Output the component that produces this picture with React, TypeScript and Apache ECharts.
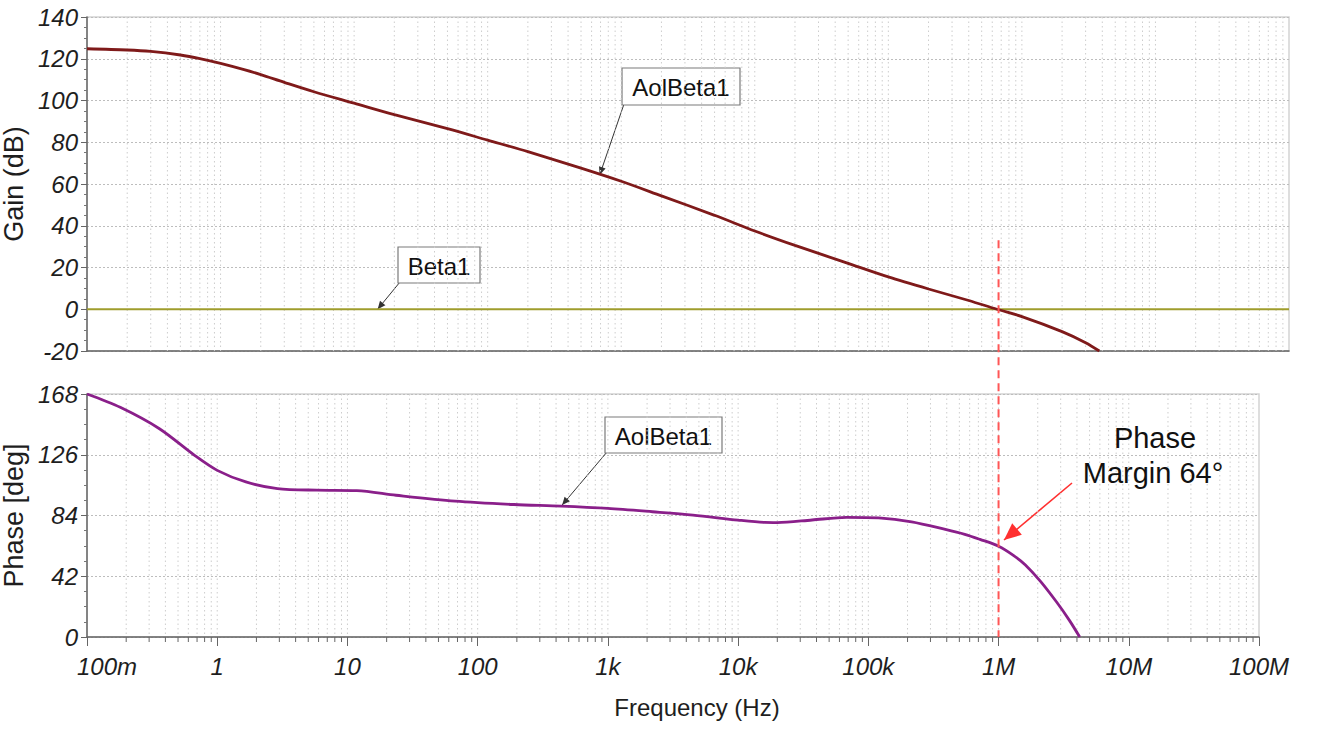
import React, { useEffect, useRef } from 'react';
import * as echarts from 'echarts';

// ---- data ----
const decadeValues = [0.1, 1, 10, 100, 1e3, 1e4, 1e5, 1e6, 1e7, 1e8];
const freqLabels = ['100m', '1', '10', '100', '1k', '10k', '100k', '1M', '10M', '100M'];
const gridMultipliers = [1, 2, 3, 4, 5, 6, 7, 8, 9];

const gainFreq = [0.1, 0.2, 0.3, 0.5, 0.7, 1, 1.5, 2, 3, 5, 10, 20, 50, 100, 200, 500, 1e3, 2e3, 5e3, 1e4, 2e4, 5e4, 1e5, 2e5, 4e5, 6.5e5, 1e6, 2e6, 3e6, 3.8e6];
const gainDb = [124.8, 124.2, 123.5, 121.8, 120.1, 117.8, 114.8, 112.4, 108.7, 104.2, 98.7, 93.2, 86.5, 81, 75.5, 67.6, 61.3, 54.3, 45, 37.5, 30.6, 22, 15.5, 9.7, 4.2, 0, -3.5, -10.7, -16, -20];

const betaFreq = [0.1, 1e8];
const betaDb = [0, 0];

const phaseFreq = [0.1, 0.18, 0.36, 0.67, 1, 1.66, 2.9, 5.8, 11.8, 23.6, 67, 190, 440, 1e3, 2.2e3, 4.5e3, 1e4, 1.6e4, 2e4, 3.7e4, 6.8e4, 1.2e5, 2.15e5, 3.9e5, 5.5e5, 7.2e5, 1e6, 1.3e6, 1.6e6, 2.1e6, 2.8e6, 3.5e6, 4.2e6];
const phaseDeg = [168, 158.8, 144, 125.6, 115.2, 107.2, 102.6, 101.5, 101.2, 98, 93.9, 91.6, 90.5, 88.9, 86.6, 84.3, 80.8, 79.2, 79.1, 80.9, 82.7, 82.3, 79.6, 74.4, 71, 67.5, 62.8, 56.5, 50, 38.5, 24, 11.5, 0];

const gainRange = [-20, 140];
const phaseRange = [0, 168];

const FONT = '"Liberation Sans", Arial, sans-serif';

function arrowHead(tip: number[], from: number[], len: number, half: number) {
  const dx = tip[0] - from[0];
  const dy = tip[1] - from[1];
  const L = Math.hypot(dx, dy);
  const ux = dx / L, uy = dy / L;
  const bx = tip[0] - ux * len, by = tip[1] - uy * len;
  return [[tip[0], tip[1]], [bx - uy * half, by + ux * half], [bx + uy * half, by - ux * half]];
}

export default function App() {
  const ref = useRef<HTMLDivElement>(null);
  useEffect(() => {
    if (!ref.current) return;
    const chart = echarts.init(ref.current, null, { renderer: 'svg' });

    const gridFreqs: number[][] = [];
    for (let i = 0; i < decadeValues.length - 1; i++) {
      for (const m of gridMultipliers) {
        const v = decadeValues[i] * m;
        if (i === 0 && m === 1) continue;
        gridFreqs.push([v, m === 1 ? 1 : 0]);
      }
    }

    const labelFmt = (v: number) => {
      const i = decadeValues.findIndex((d) => Math.abs(Math.log10(d) - Math.log10(v)) < 1e-6);
      if (i < 0) return '';
      return i === 0 ? '{first|' + freqLabels[0] + '}' : freqLabels[i];
    };

    const axisLabelStyle = { fontSize: 24, fontStyle: 'italic', fontFamily: FONT, color: '#1e1e1e' };

    const vGrid = (yr: number[], withTicks: boolean) => (params: any, api: any) => {
      const f = api.value(0);
      const dec = api.value(1);
      const p1 = api.coord([f, yr[1]]);
      const p2 = api.coord([f, yr[0]]);
      const children: any[] = [
        { type: 'line', shape: { x1: p1[0], y1: p1[1], x2: p2[0], y2: p2[1] }, style: { stroke: '#cdcdcd', lineWidth: 1, lineDash: [1.5, 3] }, silent: true },
      ];
      if (withTicks && !dec) {
        children.push({ type: 'line', shape: { x1: p2[0], y1: p2[1], x2: p2[0], y2: p2[1] + 5 }, style: { stroke: '#666', lineWidth: 1 }, silent: true });
      }
      return { type: 'group', children };
    };

    const option: any = {
      animation: false,
      backgroundColor: '#ffffff',
      grid: [
        { left: 87, top: 17, width: 1202, height: 334, show: true, borderColor: '#d4d4d4', borderWidth: 1.5, backgroundColor: 'transparent', containLabel: false, outerBoundsMode: 'none' },
        { left: 87, top: 394, width: 1172, height: 243, show: true, borderColor: '#d4d4d4', borderWidth: 1.5, backgroundColor: 'transparent', containLabel: false, outerBoundsMode: 'none' },
      ],
      xAxis: [
        {
          gridIndex: 0, type: 'log', logBase: 10, min: 0.1, max: 1e8, splitNumber: 10,
          axisLine: { show: true, onZero: false, lineStyle: { color: '#666', width: 1.5 } },
          axisTick: { show: false }, axisLabel: { show: false }, splitLine: { show: false },
        },
        {
          gridIndex: 1, type: 'log', logBase: 10, min: 0.1, max: 1e8, splitNumber: 10,
          axisLine: { show: true, onZero: false, lineStyle: { color: '#666', width: 1.5 } },
          axisTick: { show: true, length: 9, lineStyle: { color: '#666' } },
          axisLabel: {
            ...axisLabelStyle, margin: 17, formatter: labelFmt, showMinLabel: true, showMaxLabel: true,
            rich: { first: { ...axisLabelStyle, padding: [0, 0, 0, 40] } },
          },
          splitLine: { show: false },
          name: 'Frequency (Hz)', nameLocation: 'middle', nameGap: 58,
          nameTextStyle: { fontSize: 24, fontFamily: FONT, color: '#1e1e1e', padding: [0, 0, 0, 48] },
        },
      ],
      yAxis: [
        {
          gridIndex: 0, type: 'value', min: gainRange[0], max: gainRange[1], interval: 20,
          axisLine: { show: true, lineStyle: { color: '#666', width: 1.5 } },
          axisTick: { show: true, length: 6, lineStyle: { color: '#666' } },
          minorTick: { show: true, splitNumber: 4, length: 3, lineStyle: { color: '#777' } },
          axisLabel: { ...axisLabelStyle, margin: 9 },
          splitLine: { show: true, lineStyle: { color: '#bdbdbd', type: [2, 2], width: 1 } },
          name: 'Gain (dB)', nameLocation: 'middle', nameGap: 49,
          nameTextStyle: { fontSize: 27, fontFamily: FONT, color: '#1e1e1e' },
        },
        {
          gridIndex: 1, type: 'value', min: phaseRange[0], max: phaseRange[1], interval: 42,
          axisLine: { show: true, lineStyle: { color: '#666', width: 1.5 } },
          axisTick: { show: true, length: 6, lineStyle: { color: '#666' } },
          minorTick: { show: true, splitNumber: 4, length: 3, lineStyle: { color: '#777' } },
          axisLabel: { ...axisLabelStyle, margin: 9 },
          splitLine: { show: true, lineStyle: { color: '#bdbdbd', type: [2, 2], width: 1 } },
          name: 'Phase [deg]', nameLocation: 'middle', nameGap: 49,
          nameTextStyle: { fontSize: 27, fontFamily: FONT, color: '#1e1e1e' },
        },
      ],
      series: [
        { type: 'custom', xAxisIndex: 0, yAxisIndex: 0, silent: true, z: 1, data: gridFreqs, renderItem: vGrid(gainRange, false) },
        { type: 'custom', xAxisIndex: 1, yAxisIndex: 1, silent: true, z: 1, data: gridFreqs, renderItem: vGrid(phaseRange, true) },
        {
          name: 'Beta1', type: 'line', xAxisIndex: 0, yAxisIndex: 0, z: 3, showSymbol: false, silent: true,
          data: betaFreq.map((f, i) => [f, betaDb[i]]), lineStyle: { color: '#9f9d2c', width: 2.2 },
        },
        {
          name: 'AolBeta1', type: 'line', xAxisIndex: 0, yAxisIndex: 0, z: 4, showSymbol: false, silent: true, smooth: 0.3,
          data: gainFreq.map((f, i) => [f, gainDb[i]]), lineStyle: { color: '#7f1a1a', width: 2.8 },
        },
        {
          name: 'AolBeta1 phase', type: 'line', xAxisIndex: 1, yAxisIndex: 1, z: 4, showSymbol: false, silent: true, smooth: 0.3,
          data: phaseFreq.map((f, i) => [f, phaseDeg[i]]), lineStyle: { color: '#8a1f8a', width: 2.8 },
        },
      ],
    };
    chart.setOption(option);

    const px = (g: number, v: number[]) => chart.convertToPixel({ gridIndex: g } as any, v) as unknown as number[];
    const xm = px(1, [1e6, 0]);
    const yTop = px(0, [1e6, 33])[1];

    const tipTop = px(0, [690, 64.3]);
    const tipBeta = px(0, [15, 0]);
    const tipBot = px(1, [445, 91.2]);

    const box = (x: number, y: number, w: number, h: number, text: string) => ({
      type: 'group', z: 20, children: [
        { type: 'rect', shape: { x, y, width: w, height: h }, style: { fill: '#fff', stroke: '#7a7a7a', lineWidth: 1.2 } },
        { type: 'text', x: x + w / 2, y: y + h / 2 + 1, style: { text, fontSize: 24, fontFamily: FONT, fill: '#111', align: 'center', verticalAlign: 'middle' } },
      ],
    });
    const arrow = (from: number[], tip: number[], color: string, width: number, len: number, half: number) => ({
      type: 'group', z: 19, children: [
        { type: 'line', shape: { x1: from[0], y1: from[1], x2: tip[0], y2: tip[1] }, style: { stroke: color, lineWidth: width } },
        { type: 'polygon', shape: { points: arrowHead(tip, from, len, half) }, style: { fill: color } },
      ],
    });

    chart.setOption({
      graphic: [
        { type: 'line', z: 18, shape: { x1: xm[0], y1: yTop, x2: xm[0], y2: xm[1] }, style: { stroke: '#ff5656', lineWidth: 2, lineDash: [8, 5] } },
        arrow([624, 104], tipTop, '#333', 1, 8, 3.5),
        box(622, 68, 118, 37, 'AolBeta1'),
        arrow([400, 282], tipBeta, '#333', 1, 8, 3.5),
        box(398, 247, 82, 36, 'Beta1'),
        arrow([607, 452], tipBot, '#333', 1, 8, 3.5),
        box(605, 417, 117, 36, 'AolBeta1'),
        arrow([1072, 483], [1004, 540], '#ff3030', 1.6, 17, 7.5),
        { type: 'text', z: 20, x: 1155, y: 438, style: { text: 'Phase', fontSize: 29, fontFamily: FONT, fill: '#111', align: 'center', verticalAlign: 'middle' } },
        { type: 'text', z: 20, x: 1153, y: 473, style: { text: 'Margin 64°', fontSize: 29, fontFamily: FONT, fill: '#111', align: 'center', verticalAlign: 'middle' } },
      ],
    });

    return () => chart.dispose();
  }, []);
  return <div ref={ref} style={{ position: 'absolute', left: 0, top: 0, width: 1321, height: 730, background: '#fff' }} />;
}
